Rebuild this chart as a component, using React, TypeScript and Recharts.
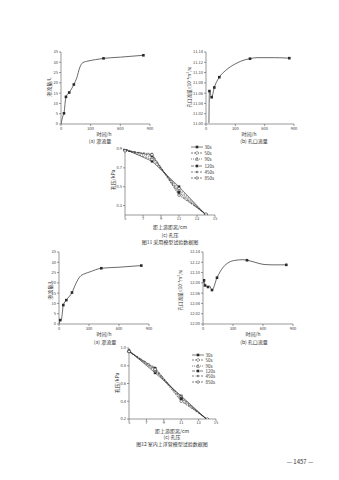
import React from "react"
import { LineChart, Line, XAxis, YAxis } from "recharts"

const FONT = '"Noto Sans CJK SC", "Noto Sans", sans-serif'
const INK = "#2a2a2a"
const AXIS = "#555"

// 图11 (a) 渗流量
const timeA = [0, 10, 20, 30, 50, 83, 130, 160, 190, 220, 273, 350, 430, 600, 833]
const seepA = [0, 2.2, 4, 5.2, 13.2, 15.3, 19.2, 22.5, 27.5, 29.8, 30.6, 31.3, 31.9, 32.5, 33.4]
const markTimeA = [30, 50, 83, 130, 430, 833]
const markSeepA = [5.2, 13.2, 15.3, 19.2, 31.9, 33.4]

// 图11 (b) 孔口流量
const timeB = [30, 35, 58, 85, 136, 200, 300, 400, 450, 520, 700, 852]
const flowB = [11.002, 11.064, 11.052, 11.071, 11.091, 11.104, 11.117, 11.125, 11.127, 11.129, 11.129, 11.128]
const markTimeB = [35, 58, 85, 136, 450, 852]
const markFlowB = [11.064, 11.052, 11.071, 11.091, 11.127, 11.128]

// 图12 (a) 渗流量
const timeD = [0, 13, 25, 43, 73, 130, 170, 207, 260, 307, 423, 600, 823]
const seepD = [0, 1.9, 2.6, 9.2, 11.6, 15.3, 19.8, 22.9, 24.5, 25.3, 27.1, 27.6, 28.4]
const markTimeD = [13, 43, 73, 130, 423, 823]
const markSeepD = [1.9, 9.2, 11.6, 15.3, 27.1, 28.4]

// 图12 (b) 孔口流量
const timeE = [5, 10, 20, 33, 50, 65, 90, 140, 200, 260, 330, 400, 440, 520, 600, 700, 833]
const flowE = [12.079, 12.085, 12.075, 12.074, 12.072, 12.074, 12.066, 12.09, 12.11, 12.12, 12.124, 12.125, 12.124, 12.12, 12.116, 12.115, 12.115]
const markTimeE = [10, 20, 50, 90, 140, 440, 833]
const markFlowE = [12.085, 12.075, 12.072, 12.066, 12.09, 12.124, 12.115]

// (c) 孔压 vs 距上游距离
const distance = [5, 8, 11, 14]
const seriesNames = ["30s", "50s", "90s", "120s", "450s", "850s"]
const pressureC = [
  [0.9, 0.77, 0.5, 0.2],
  [0.89, 0.79, 0.48, 0.2],
  [0.9, 0.81, 0.46, 0.2],
  [0.89, 0.83, 0.44, 0.2],
  [0.88, 0.85, 0.42, 0.21],
  [0.88, 0.84, 0.41, 0.21],
]
const pressureF = [
  [0.97, 0.72, 0.46, 0.19],
  [0.96, 0.74, 0.45, 0.19],
  [0.97, 0.75, 0.44, 0.19],
  [0.96, 0.77, 0.43, 0.19],
  [0.96, 0.78, 0.41, 0.2],
  [0.96, 0.76, 0.4, 0.2],
]

const timeTicks = [0, 300, 600, 900]
const seepTicks = [0, 5, 10, 15, 20, 25, 30, 35]
const flowTicksB = [11.0, 11.02, 11.04, 11.06, 11.08, 11.1, 11.12, 11.14]
const flowTicksE = [12.0, 12.02, 12.04, 12.06, 12.08, 12.1, 12.12, 12.14]
const distTicks = [5, 7, 9, 11, 13, 15]
const presTicksC = [0.2, 0.3, 0.4, 0.5, 0.6, 0.7, 0.8, 0.9]
const presTicksF = [0.2, 0.3, 0.4, 0.5, 0.6, 0.7, 0.8, 0.9, 1.0]

const lineStyles = [
  { dash: undefined, shape: "square" },
  { dash: "2 1", shape: "diamond" },
  { dash: "1 1", shape: "triangle" },
  { dash: "3 1", shape: "square" },
  { dash: "2 1 0.5 1", shape: "plus" },
  { dash: "2 1", shape: "circle" },
]

const tickStyle = { fontSize: 4, fill: "#444", fontFamily: FONT }

function Marker({ cx, cy, shape }: { cx?: number; cy?: number; shape: string }) {
  if (cx == null || cy == null) return null
  const s = 1.3
  if (shape === "square")
    return <rect x={cx - s} y={cy - s} width={s * 2} height={s * 2} fill={INK} />
  if (shape === "diamond")
    return <polygon points={`${cx},${cy - s - 0.4} ${cx + s + 0.4},${cy} ${cx},${cy + s + 0.4} ${cx - s - 0.4},${cy}`} fill="#fff" stroke={INK} strokeWidth={0.5} />
  if (shape === "triangle")
    return <polygon points={`${cx},${cy - s - 0.3} ${cx + s},${cy + s} ${cx - s},${cy + s}`} fill="#fff" stroke={INK} strokeWidth={0.5} />
  if (shape === "plus")
    return (
      <g stroke={INK} strokeWidth={0.5}>
        <line x1={cx - s} y1={cy} x2={cx + s} y2={cy} />
        <line x1={cx} y1={cy - s} x2={cx} y2={cy + s} />
      </g>
    )
  return <circle cx={cx} cy={cy} r={s} fill="#fff" stroke={INK} strokeWidth={0.5} />
}

function Txt({ x, y, children, rotate, size = 5 }: { x: number; y: number; children: React.ReactNode; rotate?: boolean; size?: number }) {
  return (
    <div
      style={{
        position: "absolute",
        left: x,
        top: y,
        transform: `translate(-50%, -50%)${rotate ? " rotate(-90deg)" : ""}`,
        whiteSpace: "nowrap",
        fontSize: size,
        lineHeight: 1,
        color: "#333",
        fontFamily: FONT,
      }}
    >
      {children}
    </div>
  )
}

type TimeProps = {
  plot: [number, number, number, number]
  times: number[]
  values: number[]
  markTimes: number[]
  markValues: number[]
  yDomain: [number, number]
  yTicks: number[]
  digits: number
}

function TimeChart({ plot, times, values, markTimes, markValues, yDomain, yTicks, digits }: TimeProps) {
  const [x0, x1, y0, y1] = plot
  const yw = 30
  const left = x0 - yw
  const top = y0 - 6
  const curve = times.map((t, i) => ({ t, v: values[i] }))
  const marks = markTimes.map((t, i) => ({ t, v: markValues[i] }))
  return (
    <div style={{ position: "absolute", left, top }}>
      <LineChart width={x1 + 8 - left} height={y1 + 12 - top} margin={{ top: 6, right: 8, left: 0, bottom: 0 }}>
        <XAxis type="number" dataKey="t" domain={[0, 900]} ticks={timeTicks} height={12} tick={tickStyle} tickSize={2} tickMargin={1} stroke={AXIS} strokeWidth={0.6} allowDataOverflow />
        <YAxis type="number" domain={yDomain} ticks={yTicks} width={yw} tick={tickStyle} tickSize={2} tickMargin={1} stroke={AXIS} strokeWidth={0.6} tickFormatter={(v: number) => (digits ? v.toFixed(digits) : String(v))} allowDataOverflow />
        <Line data={curve} dataKey="v" type="monotone" stroke={INK} strokeWidth={0.7} dot={false} isAnimationActive={false} />
        <Line data={marks} dataKey="v" stroke="none" dot={(p: any) => <Marker key={p.index} cx={p.cx} cy={p.cy} shape="square" />} isAnimationActive={false} />
      </LineChart>
    </div>
  )
}

type DistProps = {
  plot: [number, number, number, number]
  values: number[][]
  yDomain: [number, number]
  yTicks: number[]
}

function DistChart({ plot, values, yDomain, yTicks }: DistProps) {
  const [x0, x1, y0, y1] = plot
  const yw = 22
  const left = x0 - yw
  const top = y0 - 6
  const rows = distance.map((x, i) => {
    const r: Record<string, number> = { x }
    seriesNames.forEach((n, k) => (r[n] = values[k][i]))
    return r
  })
  return (
    <div style={{ position: "absolute", left, top }}>
      <LineChart data={rows} width={x1 + 8 - left} height={y1 + 12 - top} margin={{ top: 6, right: 8, left: 0, bottom: 0 }}>
        <XAxis type="number" dataKey="x" domain={[5, 15]} ticks={distTicks} height={12} tick={tickStyle} tickSize={2} tickMargin={0} stroke={AXIS} strokeWidth={0.6} />
        <YAxis type="number" domain={yDomain} ticks={yTicks} width={yw} tick={tickStyle} tickSize={2} tickMargin={1} stroke={AXIS} strokeWidth={0.6} tickFormatter={(v: number) => v.toFixed(1)} allowDataOverflow />
        {seriesNames.map((n, k) => (
          <Line
            key={n}
            dataKey={n}
            type="linear"
            stroke={INK}
            strokeWidth={0.6}
            strokeDasharray={lineStyles[k].dash}
            dot={(p: any) => <Marker key={p.index} cx={p.cx} cy={p.cy} shape={lineStyles[k].shape} />}
            isAnimationActive={false}
          />
        ))}
      </LineChart>
    </div>
  )
}

function LegendBox({ x, y, gap }: { x: number; y: number; gap: number }) {
  return (
    <div style={{ position: "absolute", left: x, top: y }}>
      {seriesNames.map((n, k) => (
        <div key={n} style={{ display: "flex", alignItems: "center", height: gap, fontSize: 4.5, fontFamily: FONT, color: "#333" }}>
          <svg width={12} height={4} style={{ display: "block" }}>
            <line x1={0} y1={2} x2={12} y2={2} stroke={INK} strokeWidth={0.6} strokeDasharray={lineStyles[k].dash} />
            <Marker cx={6} cy={2} shape={lineStyles[k].shape} />
          </svg>
          <span style={{ marginLeft: 1.5 }}>{n}</span>
        </div>
      ))}
    </div>
  )
}

export default function App() {
  return (
    <div style={{ position: "absolute", left: 0, top: 0, width: 339, height: 480, background: "#fff", overflow: "hidden", fontFamily: FONT }}>
      {/* 图11 */}
      <TimeChart plot={[61, 150, 52, 124]} times={timeA} values={seepA} markTimes={markTimeA} markValues={markSeepA} yDomain={[0, 35]} yTicks={seepTicks} digits={0} />
      <Txt x={48} y={87} rotate>渗流量/L</Txt>
      <Txt x={104} y={133}>时间/h</Txt>
      <Txt x={100} y={140}>(a) 渗流量</Txt>

      <TimeChart plot={[206, 294, 52, 124]} times={timeB} values={flowB} markTimes={markTimeB} markValues={markFlowB} yDomain={[11.0, 11.14]} yTicks={flowTicksB} digits={2} />
      <Txt x={189} y={87} rotate size={4.5}>孔口流量/(10⁻⁴m³/s)</Txt>
      <Txt x={249} y={133}>时间/h</Txt>
      <Txt x={254} y={140}>(b) 孔口流量</Txt>

      <DistChart plot={[125, 215, 149, 215]} values={pressureC} yDomain={[0.2, 0.9]} yTicks={presTicksC} />
      <LegendBox x={191} y={143.5} gap={6.3} />
      <Txt x={112} y={180} rotate>孔压/kPa</Txt>
      <Txt x={170} y={226}>距上游距离/cm</Txt>
      <Txt x={170} y={234}>(c) 孔压</Txt>
      <Txt x={170} y={241}>图11 采用模型试验数据图</Txt>

      {/* 图12 */}
      <TimeChart plot={[59, 149, 252, 324]} times={timeD} values={seepD} markTimes={markTimeD} markValues={markSeepD} yDomain={[0, 35]} yTicks={seepTicks} digits={0} />
      <Txt x={49} y={290} rotate>渗流量/L</Txt>
      <Txt x={104} y={333}>时间/h</Txt>
      <Txt x={105} y={340.5}>(a) 渗流量</Txt>

      <TimeChart plot={[203, 293, 252, 324]} times={timeE} values={flowE} markTimes={markTimeE} markValues={markFlowE} yDomain={[12.0, 12.14]} yTicks={flowTicksE} digits={2} />
      <Txt x={180} y={290} rotate size={4.5}>孔口流量/(10⁻⁴m³/s)</Txt>
      <Txt x={253} y={333}>时间/h</Txt>
      <Txt x={254} y={340.5}>(b) 孔口流量</Txt>

      <DistChart plot={[129, 216, 348, 419]} values={pressureF} yDomain={[0.2, 1.0]} yTicks={presTicksF} />
      <LegendBox x={192} y={352.5} gap={5.3} />
      <Txt x={116} y={383} rotate>孔压/kPa</Txt>
      <Txt x={172} y={429.5}>距上游距离/cm</Txt>
      <Txt x={172} y={435.5}>(c) 孔压</Txt>
      <Txt x={172} y={443}>图12 室内上浮管模型试验数据图</Txt>

      <Txt x={300} y={462} size={6}>— 1457 —</Txt>
    </div>
  )
}
